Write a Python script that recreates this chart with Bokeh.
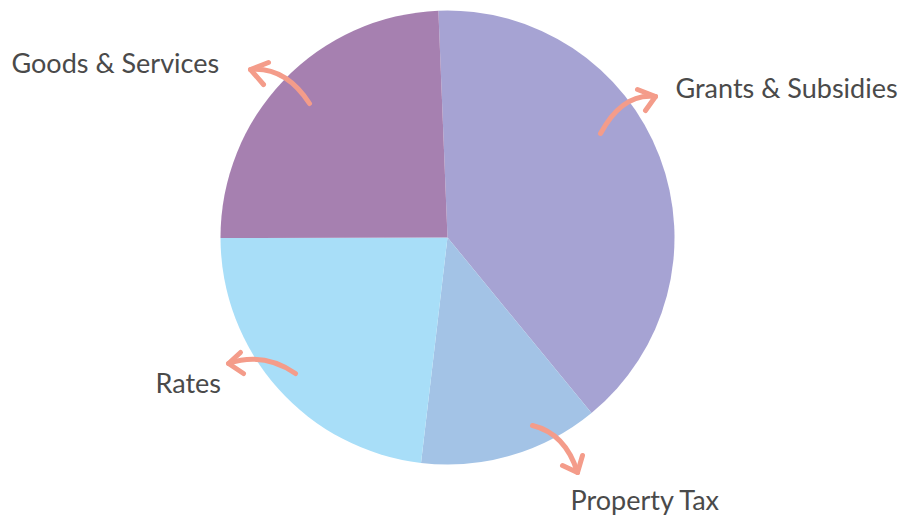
import numpy as np
from bokeh.plotting import figure
from bokeh.models import Range1d, ColumnDataSource
from bokeh.core.properties import value
from bokeh.embed import file_html
from bokeh.resources import INLINE

# ---- data ----
labels = ["Grants & Subsidies", "Property Tax", "Rates", "Goods & Services"]
values = [39.7, 12.8, 23.1, 24.4]
colors = ["#A6A3D3", "#A3C3E6", "#A8DEF8", "#A680B0"]

# ---- layout ----
W, H = 907, 516
CX, CY = 447, 237          # pie centre in page pixels
R = 227
START_DEG = 92.3
label_x = [675, 570, 155, 11]
label_y = [87, 499, 382, 62]      # text anchors, page pixels from top

# arrows (relative to pie centre): start, control, tip, head arm 1, head arm 2
arrow_start = [(153, 104), (85, -188), (-152, -136), (-138, 134)]
arrow_ctrl = [(175, 145), (118, -196), (-184, -114), (-162, 171)]
arrow_tip = [(208, 141), (130, -235), (-219, -126), (-197, 168)]
arrow_arm1 = [(190, 148), (135, -218), (-207, -115), (-179, 175)]
arrow_arm2 = [(198, 127), (115, -228), (-204, -136), (-184, 153)]
ARROW_COLOR = "#F49C8A"

vals = np.array(values, dtype=float)
fr = vals / vals.sum()
a0 = np.deg2rad(START_DEG)
cum = np.concatenate([[0], np.cumsum(fr)])
starts = a0 - cum[:-1] * 2 * np.pi
ends = a0 - cum[1:] * 2 * np.pi

src = ColumnDataSource(dict(x=[0] * len(vals), y=[0] * len(vals),
                            s=ends, e=starts, color=colors, label=labels))

p = figure(width=W, height=H, x_range=Range1d(-CX, W - CX), y_range=Range1d(CY - H, CY),
           output_backend="svg", toolbar_location=None, min_border=0)
p.axis.visible = False
p.grid.visible = False
p.outline_line_color = None
p.background_fill_color = "white"
p.border_fill_color = "white"

p.wedge(x="x", y="y", radius=R, start_angle="s", end_angle="e", direction="anticlock",
        fill_color="color", line_color=None, source=src)

p.quadratic(x0=[a[0] for a in arrow_start], y0=[a[1] for a in arrow_start],
            x1=[a[0] for a in arrow_tip], y1=[a[1] for a in arrow_tip],
            cx=[a[0] for a in arrow_ctrl], cy=[a[1] for a in arrow_ctrl],
            line_color=ARROW_COLOR, line_width=5, line_cap="round")
p.multi_line(xs=[[a[0], t[0], b[0]] for a, t, b in zip(arrow_arm1, arrow_tip, arrow_arm2)],
             ys=[[a[1], t[1], b[1]] for a, t, b in zip(arrow_arm1, arrow_tip, arrow_arm2)],
             line_color=ARROW_COLOR, line_width=5, line_cap="round", line_join="round")

p.text(x=[x - CX for x in label_x], y=[CY - y for y in label_y], text=labels,
       text_font=value("Lato"), text_font_size="27px",
       text_color="#4A4A4A", text_baseline="alphabetic", text_align="left")

open("out.html", "w").write(file_html(p, INLINE))
